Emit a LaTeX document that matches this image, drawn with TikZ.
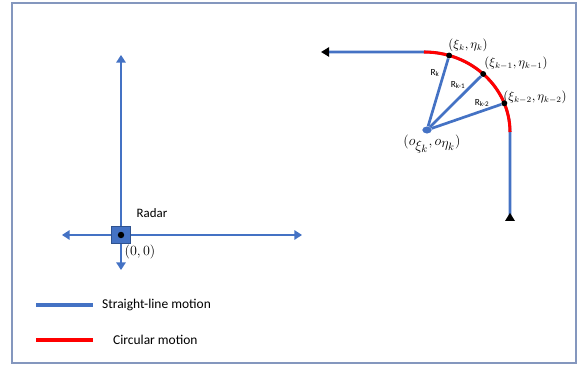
\documentclass[tikz,border=0pt]{standalone}
\usepackage{fontspec}
\setmainfont{Carlito}
\usepackage{amsmath}
\usepackage{xcolor}
\usetikzlibrary{positioning,shapes.geometric,arrows.meta,calc}
\definecolor{motionblue}{HTML}{4472C4}
\definecolor{radarblue}{HTML}{2F528F}
\definecolor{framegray}{RGB}{132,151,190}

\begin{document}
\begin{tikzpicture}[
    x=0.03cm, y=0.03cm,
    font=\fontsize{11}{13}\selectfont,
    straight/.style={draw=motionblue, line width=2.3pt},
    circular/.style={draw=red, line width=2.6pt},
    axis/.style={
        straight,
        -{Triangle[width=8pt,length=6.5pt]}
    },
    axisboth/.style={
        straight,
        {Triangle[width=8pt,length=6.5pt]}-{Triangle[width=8pt,length=6.5pt]}
    },
    track/.style={
        straight,
        {Triangle[reversed,width=8pt,length=7pt,color=black]}-{Triangle[width=8pt,length=7pt,color=black]}
    },
    radarbox/.style={
        draw=radarblue,
        fill=motionblue,
        thin,
        minimum width=0.58cm,
        minimum height=0.52cm,
        inner sep=0pt
    },
    blip/.style={circle, fill=black, minimum size=5pt, inner sep=0pt},
    hub/.style={ellipse, fill=motionblue, minimum width=8pt, minimum height=6pt, inner sep=0pt},
    ptlabel/.style={font=\fontsize{10.5}{12}\selectfont, inner sep=1pt},
    rlabel/.style={font=\fontsize{8}{9}\selectfont, inner sep=1pt}
]
\useasboundingbox (0,0) rectangle (579,366);
\draw[framegray, line width=1.1pt] (12,3) rectangle (576,363);

% radar and its axes
\coordinate (ytop) at (121,311);
\coordinate (ybot) at (121,96);
\coordinate (xleft) at (62,131);
\coordinate (xright) at (302,131);
\draw[axis] (121,131) -- (ytop);
\draw[axis] (121,131) -- (ybot);
\draw[axisboth] (xleft) -- (xright);
\node[radarbox] (radar) at (121,131) {};
\node[blip, minimum size=5.5pt] (radardot) at (radar.center) {};
\node (radarlbl) at (152,153) {Radar};
\node (origin) at (140,114) {\fontsize{13}{15}\selectfont$(0,0)$};

% target track
\coordinate (arcO) at (424,234);
\coordinate (trkS) at (510,145);
\coordinate (arcR) at (510,234);
\coordinate (arcT) at (424,314);
\coordinate (trkE) at (321,314);
\draw[track] (trkS) -- (arcR)
    arc[start angle=0, end angle=90, x radius=2.58cm, y radius=2.4cm] -- (trkE);
\draw[circular] (arcR)
    arc[start angle=0, end angle=90, x radius=2.58cm, y radius=2.4cm];

\node[hub] (hub) at (427,236) {};
\node[blip] (pk) at ($(arcO)+(73:2.58cm and 2.4cm)$) {};
\node[blip] (pk1) at ($(arcO)+(46.5:2.58cm and 2.4cm)$) {};
\node[blip] (pk2) at ($(arcO)+(21:2.58cm and 2.4cm)$) {};
\draw[straight] (hub) -- (pk);
\draw[straight] (hub) -- (pk1);
\draw[straight] (hub) -- (pk2);

\node[ptlabel] (lk) at (468,321) {$(\xi_k,\eta_k)$};
\node[ptlabel] (lk1) at (516,303) {$(\xi_{k-1},\eta_{k-1})$};
\node[ptlabel] (lk2) at (535,269) {$(\xi_{k-2},\eta_{k-2})$};
\node[ptlabel, font=\fontsize{13}{15}\selectfont] (lo) at (432,222)
    {$(o_{\textstyle\xi_k},o_{\textstyle\eta_k})$};

\node[rlabel] (rk) at (435,293) {R\textsubscript{k}};
\node[rlabel] (rk1) at (458,281) {R\textsubscript{k-1}};
\node[rlabel] (rk2) at (482,263) {R\textsubscript{k-2}};

% legend
\coordinate (lgA1) at (36,61);
\coordinate (lgB1) at (93,61);
\coordinate (lgA2) at (36,26);
\coordinate (lgB2) at (93,26);
\draw[straight, line width=2.6pt] (lgA1) -- (lgB1);
\draw[circular] (lgA2) -- (lgB2);
\node[anchor=west, font=\fontsize{11.5}{13}\selectfont] (lgtxt1) at (98,61) {Straight-line motion};
\node[anchor=west, font=\fontsize{11.5}{13}\selectfont] (lgtxt2) at (109,26) {Circular motion};

\end{tikzpicture}
\end{document}
